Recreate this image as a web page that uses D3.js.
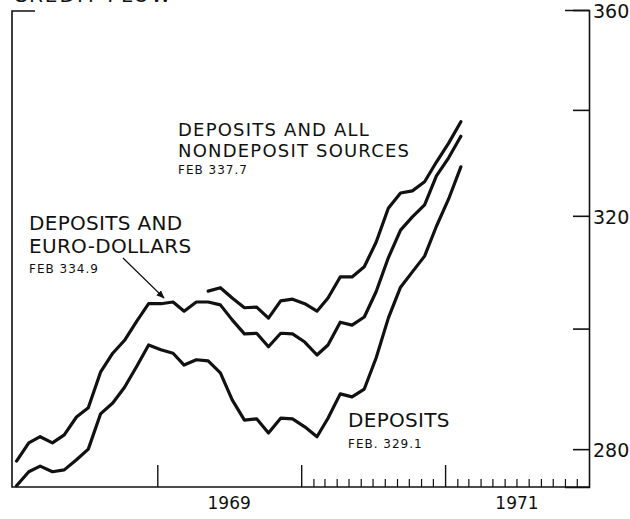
<!DOCTYPE html>
<html>
<head>
<meta charset="utf-8">
<script src="https://cdn.jsdelivr.net/npm/d3@7"></script>
<style>
  body { margin: 0; background: #fff; }
  svg { display: block; }
  text { font-family: "DejaVu Sans", sans-serif; fill: #111; }
</style>
</head>
<body>
<div class="visHolder"></div>
<script>
"use strict"

// monthly observations, Jan 1968 - Feb 1971
var months = [
  "1968-01", "1968-02", "1968-03", "1968-04", "1968-05", "1968-06",
  "1968-07", "1968-08", "1968-09", "1968-10", "1968-11", "1968-12",
  "1969-01", "1969-02", "1969-03", "1969-04", "1969-05", "1969-06",
  "1969-07", "1969-08", "1969-09", "1969-10", "1969-11", "1969-12",
  "1970-01", "1970-02", "1970-03", "1970-04", "1970-05", "1970-06",
  "1970-07", "1970-08", "1970-09", "1970-10", "1970-11", "1970-12",
  "1971-01", "1971-02"
];

// billions of dollars
var deposits = [
  274.2, 276.4, 277.3, 276.4, 276.7, 278.3, 280.0, 285.7, 287.5, 290.1,
  293.6, 297.2, 296.4, 295.8, 293.8, 294.7, 294.5, 292.5, 288.0, 284.7,
  284.9, 282.6, 285.0, 284.9, 283.6, 282.0, 285.0, 289.0, 288.5, 289.8,
  295.0, 301.8, 307.2, 309.9, 312.7, 318.1, 323.1, 329.1
];

var depositsEuro = [
  278.1, 281.0, 282.0, 281.0, 282.3, 285.2, 286.7, 292.6, 295.8, 298.0,
  301.3, 304.3, 304.3, 304.6, 303.0, 304.6, 304.6, 304.1, 301.5, 299.1,
  299.2, 296.9, 299.2, 299.1, 297.7, 295.5, 297.2, 301.1, 300.6, 302.0,
  306.4, 312.4, 317.4, 319.8, 322.0, 327.4, 330.8, 334.9
];

var depositsAll = [
  null, null, null, null, null, null, null, null, null, null,
  null, null, null, null, null, null, 306.5, 307.1, 305.3, 303.6,
  303.7, 301.8, 304.8, 305.1, 304.3, 303.0, 305.3, 309.0, 309.0, 310.8,
  315.2, 321.4, 324.2, 324.6, 326.3, 330.0, 333.6, 337.7
];

var yTicks = [280, 300, 320, 340, 360];
var yLabels = [280, 320, 360];
var yearTicks = ["1969", "1970", "1971"];
var yearLabels = ["1969", "1971"];
var monthTicks = [
  "1970-02", "1970-03", "1970-04", "1970-05", "1970-06", "1970-07",
  "1970-08", "1970-09", "1970-10", "1970-11", "1970-12",
  "1971-02", "1971-03", "1971-04", "1971-05", "1971-06", "1971-07",
  "1971-08", "1971-09", "1971-10", "1971-11", "1971-12"
];

var width = 630,
  height = 519,
  xLeft = 12,
  xRight = 589,
  yTop = 10,
  yBottom = 487;

var parseMonth = d3.utcParse('%Y-%m');
var parseYear = d3.utcParse('%Y');

var svg = d3.select('.visHolder')
  .append('svg')
  .attr('width', width)
  .attr('height', height);

var x = d3.scaleUtc()
  .domain([parseYear('1968'), parseYear('1972')])
  .range([xLeft + 1, xRight]);

// ratio scale
var y = d3.scaleLog()
  .domain([274, 360])
  .range([yBottom, yTop]);

// plot each month a little after its start
var dates = months.map(m => d3.utcDay.offset(parseMonth(m), 9));

// heading, cut off by the top edge as in the original
svg.append('text')
  .attr('x', 13)
  .attr('y', 2)
  .style('font-size', '20px')
  .style('letter-spacing', '2px')
  .text('CREDIT FLOW');

// frame: left side with top stub, bottom
svg.append('path')
  .attr('d', 'M' + (xLeft + 23) + ',' + (yTop + 1) + 'H' + xLeft + 'V' + yBottom + 'H' + xRight)
  .attr('fill', 'none')
  .attr('stroke', '#111')
  .attr('stroke-width', 1.6);

// right axis
var yAxis = d3.axisRight(y)
  .tickValues(yTicks)
  .tickSize(-16)
  .tickSizeOuter(-24)
  .tickPadding(4)
  .tickFormat(d => yLabels.indexOf(d) >= 0 ? d : '');

var yAxisGroup = svg.append('g')
  .attr('transform', 'translate(' + xRight + ',0)')
  .call(yAxis);

yAxisGroup.selectAll('path, line')
  .attr('stroke', '#111')
  .attr('stroke-width', 1.6);
yAxisGroup.selectAll('text')
  .attr('font-family', '"DejaVu Sans", sans-serif')
  .attr('font-size', 19)
  .attr('dy', '0.4em')
  .attr('fill', '#111');

// year ticks
var yearAxis = d3.axisBottom(x)
  .tickValues(yearTicks.map(parseYear))
  .tickSize(-22)
  .tickSizeOuter(0)
  .tickFormat('');

var yearGroup = svg.append('g')
  .attr('transform', 'translate(0,' + yBottom + ')')
  .call(yearAxis);
yearGroup.select('.domain').remove();

// month ticks in 1970-71
var monthAxis = d3.axisBottom(x)
  .tickValues(monthTicks.map(parseMonth))
  .tickSize(-8)
  .tickSizeOuter(0)
  .tickFormat('');

var monthGroup = svg.append('g')
  .attr('transform', 'translate(0,' + yBottom + ')')
  .call(monthAxis);
monthGroup.select('.domain').remove();

yearGroup.selectAll('.tick line')
  .attr('stroke', '#111')
  .attr('stroke-width', 1.4);
monthGroup.selectAll('.tick line')
  .attr('stroke', '#111')
  .attr('stroke-width', 1.2);

// year labels, centred on the year
var labelAxis = d3.axisBottom(x)
  .tickValues(yearLabels.map(d => d3.utcMonth.offset(parseYear(d), 6)))
  .tickSize(0)
  .tickPadding(10)
  .tickFormat(d3.utcFormat('%Y'));

var labelGroup = svg.append('g')
  .attr('transform', 'translate(0,' + yBottom + ')')
  .call(labelAxis);
labelGroup.select('.domain').remove();
labelGroup.selectAll('text')
  .attr('font-family', '"DejaVu Sans", sans-serif')
  .attr('font-size', 17)
  .attr('fill', '#111');

// series
var line = d3.line()
  .defined(d => d != null)
  .x((d, i) => x(dates[i]))
  .y(d => y(d));

[deposits, depositsEuro, depositsAll].forEach(series => {
  svg.append('path')
    .datum(series)
    .attr('d', line)
    .attr('fill', 'none')
    .attr('stroke', '#111')
    .attr('stroke-width', 3.2)
    .attr('stroke-linejoin', 'round')
    .attr('stroke-linecap', 'round');
});

// labels: [text, offset, size, letter-spacing]
function note(lines, px, py) {
  var g = svg.append('g');
  lines.forEach(l => {
    g.append('text')
      .attr('x', px)
      .attr('y', py + l[1])
      .style('font-size', l[2] + 'px')
      .style('letter-spacing', l[3] + 'px')
      .text(l[0]);
  });
}

note([['DEPOSITS AND ALL', 0, 18, 1.2], ['NONDEPOSIT SOURCES', 21, 18, 1.2], ['FEB 337.7', 38, 12, 1]], 178, 136);
note([['DEPOSITS AND', 0, 20, 0.3], ['EURO-DOLLARS', 23, 20, 0.3], ['FEB 334.9', 43, 12, 1]], 29, 230);
note([['DEPOSITS', 0, 20, 0.3], ['FEB. 329.1', 21, 12, 1]], 348, 427);

// arrow to the euro-dollar line
svg.append('defs').append('marker')
  .attr('id', 'head')
  .attr('viewBox', '0 0 10 10')
  .attr('refX', 9)
  .attr('refY', 5)
  .attr('markerWidth', 7)
  .attr('markerHeight', 7)
  .attr('orient', 'auto')
  .append('path')
  .attr('d', 'M0,1L10,5L0,9z')
  .attr('fill', '#111');

svg.append('line')
  .attr('x1', 123)
  .attr('y1', 258)
  .attr('x2', 164)
  .attr('y2', 298)
  .attr('stroke', '#111')
  .attr('stroke-width', 1.2)
  .attr('marker-end', 'url(#head)');
</script>
</body>
</html>
